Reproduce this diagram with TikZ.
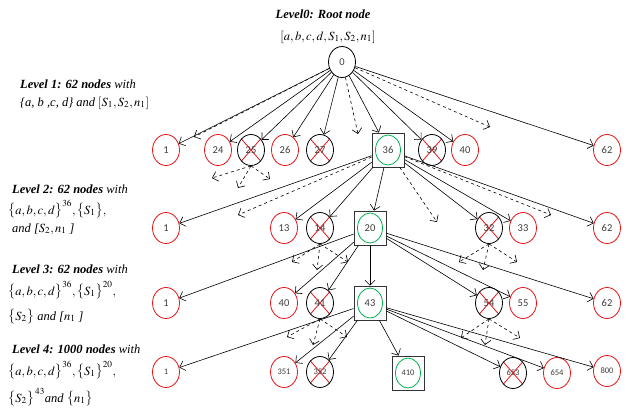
\documentclass[tikz,border=0pt]{standalone}
\usepackage{mathptmx}
\usepackage{fontspec}
\setmainfont{Liberation Serif}
\newfontfamily\numfont{Carlito}
\usetikzlibrary{shapes.geometric,arrows.meta}
\definecolor{xred}{RGB}{230,20,20}
\definecolor{okgreen}{RGB}{0,176,80}
\definecolor{numgray}{RGB}{60,60,60}

\begin{document}
\begin{tikzpicture}[x=1pt,y=-1pt,
	block/.style={ellipse, draw=xred, thick, minimum width=27pt, minimum height=31pt, inner sep=0pt, text=numgray, font=\numfont\fontsize{10.5}{12}\selectfont},
	dead/.style={block, draw=black, path picture={\draw[xred, thick] (path picture bounding box.north west) -- (path picture bounding box.south east) (path picture bounding box.north east) -- (path picture bounding box.south west);}},
	chosen/.style={rectangle, draw=black!80, thick, minimum width=32pt, minimum height=34pt, inner sep=0pt, text=numgray, font=\numfont\fontsize{10.5}{12}\selectfont, path picture={\draw[okgreen, thick] (path picture bounding box.center) ellipse [x radius=12.5pt, y radius=15pt];}},
	small/.style={font=\numfont\fontsize{8.5}{10}\selectfont},
	edge/.style={-{Straight Barb[length=5pt,width=10pt]}, semithick},
	ghost/.style={edge, dashed},
	level/.style={anchor=base west, inner sep=0pt, font=\fontsize{12.5}{15}\selectfont\itshape}]
	\useasboundingbox (0,0) rectangle (638,410);
	% titles and level texts
	\node[level, anchor=base] (t0) at (323,18) {\textbf{Level0: Root node}};
	\node[level, anchor=base] (t0b) at (328,40) {$[a, b, c, d, S_1, S_2, n_1]$};
	\node[level] (t1) at (20,88) {\textbf{Level 1: 62 nodes} with};
	\node[level] (t1b) at (20,106) {\{a, b ,c, d\} and $[S_1, S_2, n_1]$};
	\node[level] (t2) at (12,193) {\textbf{Level 2: 62 nodes} with};
	\node[level] (t2b) at (8,214) {$\big\{a,b,c,d\big\}^{36}, \big\{S_1\big\},$};
	\node[level] (t2c) at (12,232) {and [$S_2, n_1$ ]};
	\node[level] (t3) at (12,273) {\textbf{Level 3: 62 nodes} with};
	\node[level] (t3b) at (8,295) {$\big\{a,b,c,d\big\}^{36}, \big\{S_1\big\}^{20},$};
	\node[level] (t3c) at (8,320) {$\big\{S_2\big\}$ and [$n_1$ ]};
	\node[level] (t4) at (12,353) {\textbf{Level 4: 1000 nodes} with};
	\node[level] (t4b) at (8,375) {$\big\{a,b,c,d\big\}^{36}, \big\{S_1\big\}^{20},$};
	\node[level] (t4c) at (8,402) {$\big\{S_2\big\}^{\,43}$and $\big\{n_1\big\}$};
	% root
	\node[block, draw=black] (n0) at (342,62) {0};
	% level 1
	\node[block] (a1) at (166,150) {1};
	\node[block] (a24) at (218,150) {24};
	\node[dead] (a25) at (251,150) {25};
	\node[block] (a26) at (285,150) {26};
	\node[dead] (a27) at (320,150) {27};
	\node[chosen] (a36) at (388,150) {36};
	\node[dead] (a39) at (432,150) {39};
	\node[block] (a40) at (465,150) {40};
	\node[block] (a62) at (607,150) {62};
	% level 2
	\node[block] (b1) at (166,228) {1};
	\node[block] (b13) at (284,228) {13};
	\node[dead] (b14) at (320,228) {14};
	\node[chosen] (b20) at (370,228) {20};
	\node[dead] (b32) at (489,228) {32};
	\node[block] (b33) at (523,228) {33};
	\node[block] (b62) at (607,228) {62};
	% level 3
	\node[block] (c1) at (166,303) {1};
	\node[block] (c40) at (284,303) {40};
	\node[dead] (c41) at (320,303) {41};
	\node[chosen] (c43) at (370,303) {43};
	\node[dead] (c54) at (489,303) {54};
	\node[block] (c55) at (523,303) {55};
	\node[block] (c62) at (607,303) {62};
	% level 4
	\node[block, small] (d1) at (166,372) {1};
	\node[block, small] (d351) at (284,372) {351};
	\node[dead, small] (d352) at (320,372) {352};
	\node[chosen, small] (d410) at (408,373) {410};
	\node[dead, small] (d653) at (513,373) {653};
	\node[block, small] (d654) at (557,373) {654};
	\node[block, small] (d800) at (607,371) {800};
	% loose ends of the dashed arrows
	\coordinate (g0a) at (194,137);
	\coordinate (g0b) at (358,134);
	\coordinate (g0c) at (490,127);
	\coordinate (g25a) at (212,178);
	\coordinate (g25b) at (238,188);
	\coordinate (g25c) at (270,179);
	\coordinate (g36a) at (238,215);
	\coordinate (g36b) at (437,222);
	\coordinate (g36c) at (551,215);
	\coordinate (g14a) at (292,262);
	\coordinate (g14b) at (317,270);
	\coordinate (g14c) at (348,262);
	\coordinate (g32a) at (459,262);
	\coordinate (g32b) at (483,270);
	\coordinate (g32c) at (517,262);
	\coordinate (g41a) at (287,337);
	\coordinate (g41b) at (313,345);
	\coordinate (g41c) at (347,337);
	\coordinate (g54a) at (461,338);
	\coordinate (g54b) at (485,345);
	\coordinate (g54c) at (520,338);
	% root to level 1
	\draw[edge] (n0) -- (a1);
	\draw[ghost] (n0) -- (g0a);
	\draw[edge] (n0) -- (a24);
	\draw[edge] (n0) -- (a25);
	\draw[edge] (n0) -- (a26);
	\draw[edge] (n0) -- (a27);
	\draw[ghost] (n0) -- (g0b);
	\draw[edge] (n0) -- (a36);
	\draw[edge] (n0) -- (a39);
	\draw[edge] (n0) -- (a40);
	\draw[ghost] (n0) -- (g0c);
	\draw[edge] (n0) -- (a62);
	\draw[ghost] (a25.south) -- (g25a);
	\draw[ghost] (a25.south) -- (g25b);
	\draw[ghost] (a25.south) -- (g25c);
	% level 1 to level 2
	\draw[edge] (a36) -- (b1);
	\draw[ghost] (a36) -- (g36a);
	\draw[edge] (a36) -- (b13);
	\draw[edge] (a36) -- (b14);
	\draw[edge] (a36) -- (b20);
	\draw[ghost] (a36) -- (g36b);
	\draw[edge] (a36) -- (b32);
	\draw[edge] (a36) -- (b33);
	\draw[ghost] (a36) -- (g36c);
	\draw[edge] (a36) -- (b62);
	\draw[ghost] (b14.south) -- (g14a);
	\draw[ghost] (b14.south) -- (g14b);
	\draw[ghost] (b14.south) -- (g14c);
	\draw[ghost] (b32.south) -- (g32a);
	\draw[ghost] (b32.south) -- (g32b);
	\draw[ghost] (b32.south) -- (g32c);
	% level 2 to level 3
	\draw[edge] (b20) -- (c1);
	\draw[edge] (b20) -- (c40);
	\draw[edge] (b20) -- (c41);
	\draw[edge] (b20) -- (c43);
	\draw[edge] (b20) -- (c54);
	\draw[edge] (b20) -- (c55);
	\draw[edge] (b20) -- (c62);
	\draw[ghost] (c41.south) -- (g41a);
	\draw[ghost] (c41.south) -- (g41b);
	\draw[ghost] (c41.south) -- (g41c);
	\draw[ghost] (c54.south) -- (g54a);
	\draw[ghost] (c54.south) -- (g54b);
	\draw[ghost] (c54.south) -- (g54c);
	% level 3 to level 4
	\draw[edge] (c43) -- (d1);
	\draw[edge] (c43) -- (d351);
	\draw[edge] (c43) -- (d352);
	\draw[edge] (c43) -- (d410);
	\draw[edge] (c43) -- (d653);
	\draw[edge] (c43) -- (d654);
	\draw[edge] (c43) -- (d800);
\end{tikzpicture}
\end{document}
